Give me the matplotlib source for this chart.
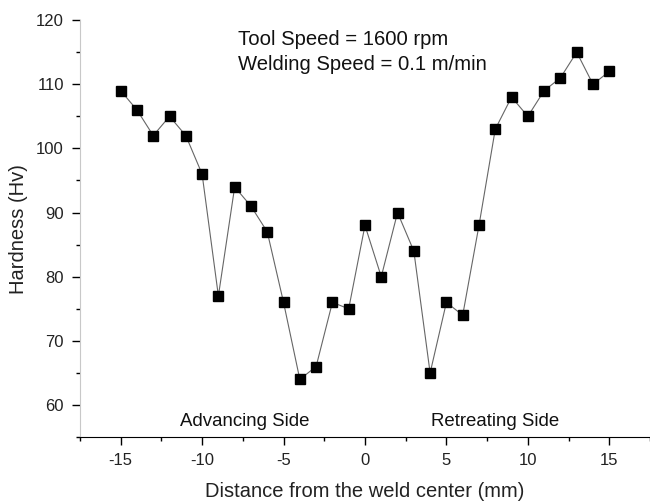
import matplotlib
matplotlib.use("Agg")
import matplotlib.pyplot as plt
from matplotlib.ticker import MultipleLocator

plt.rcParams['font.family'] = ['Liberation Sans', 'DejaVu Sans']
plt.rcParams['axes.unicode_minus'] = False

distance = [-15, -14, -13, -12, -11, -10, -9, -8, -7, -6, -5, -4, -3, -2, -1,
            0, 1, 2, 3, 4, 5, 6, 7, 8, 9, 10, 11, 12, 13, 14, 15]
hardness = [109, 106, 102, 105, 102, 96, 77, 94, 91, 87, 76, 64, 66, 76, 75,
            88, 80, 90, 84, 65, 76, 74, 88, 103, 108, 105, 109, 111, 115, 110, 112]

fig = plt.figure(figsize=(6.5, 5.03), dpi=100)
ax = fig.add_axes([0.123, 0.131, 0.877, 0.829])
ax.plot(distance, hardness, color='#666666', lw=0.8, marker='s', ms=7,
        mfc='black', mec='black', clip_on=False)

ax.set_xlim(-17.5, 17.5)
ax.set_ylim(55, 120)
ax.xaxis.set_major_locator(MultipleLocator(5))
ax.xaxis.set_minor_locator(MultipleLocator(2.5))
ax.yaxis.set_minor_locator(MultipleLocator(5))
ax.set_yticks(range(60, 121, 10))

ax.spines['top'].set_visible(False)
ax.spines['right'].set_visible(False)
ax.spines['left'].set_color('#c8c8c8')
ax.spines['bottom'].set_color('black')
ax.tick_params(which='major', direction='out', length=5.5, width=1, labelsize=12, colors='black', pad=6)
ax.tick_params(which='minor', direction='out', length=3, width=1, colors='black')
for lab in ax.get_xticklabels() + ax.get_yticklabels():
    lab.set_color('#222222')

ax.set_xlabel('Distance from the weld center (mm)', fontsize=14.5, labelpad=10, color='#222222')
ax.set_ylabel('Hardness (Hv)', fontsize=14.5, labelpad=6, color='#222222')

fig.text(0.366, 0.9105, 'Tool Speed = 1600 rpm', fontsize=14.6, ha='left', va='baseline', color='#111111')
fig.text(0.366, 0.861, 'Welding Speed = 0.1 m/min', fontsize=14.6, ha='left', va='baseline', color='#111111')

ax.text(-11.38, 56.7, 'Advancing Side', fontsize=13.4, ha='left', va='baseline', color='#111111')
ax.text(4.06, 56.7, 'Retreating Side', fontsize=13.4, ha='left', va='baseline', color='#111111')

fig.savefig('out.png', dpi=100)
